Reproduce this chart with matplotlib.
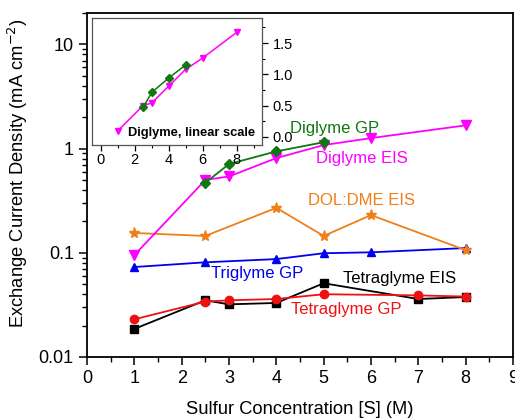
import matplotlib.pyplot as plt
import numpy as np
from matplotlib.ticker import MultipleLocator, LogLocator, NullFormatter

plt.rcParams['font.family'] = ['Liberation Sans', 'DejaVu Sans']

# Data
x_dig_eis = [1, 2.5, 3, 4, 5, 6, 8]
dig_eis = [0.095, 0.50, 0.54, 0.81, 1.08, 1.26, 1.67]

x_dig_gp = [2.5, 3, 4, 5]
dig_gp = [0.47, 0.71, 0.94, 1.15]

x_dol = [1, 2.5, 4, 5, 6, 8]
dol_eis = [0.155, 0.145, 0.27, 0.145, 0.23, 0.106]

x_tri = [1, 2.5, 4, 5, 6, 8]
tri_gp = [0.073, 0.081, 0.087, 0.099, 0.101, 0.111]

x_tetra = [1, 2.5, 3, 4, 5, 7, 8]
tetra_eis = [0.0186, 0.035, 0.032, 0.033, 0.051, 0.036, 0.0376]
tetra_gp = [0.023, 0.034, 0.035, 0.036, 0.040, 0.039, 0.038]

fig = plt.figure(figsize=(5.15, 4.19), dpi=100)
ax = fig.add_axes([0.169, 0.148, 0.827, 0.821])

ax.plot(x_tri, tri_gp, color='#0000ee', marker='^', ms=6, lw=1.3)
ax.plot(x_dol, dol_eis, color='#f07f1a', marker='*', ms=8, lw=1.3)
ax.plot(x_tetra, tetra_eis, color='black', marker='s', ms=5.5, lw=1.3)
ax.plot(x_tetra, tetra_gp, color='#ee1111', marker='o', ms=6, lw=1.3)
ax.plot(x_dig_eis, dig_eis, color='#ff00ff', marker='v', ms=7, lw=1.3)
ax.plot(x_dig_gp, dig_gp, color='#117711', marker='D', ms=5.5, lw=1.3)

ax.set_yscale('log')
ax.set_xlim(0, 9)
ax.set_ylim(0.01, 20)
ax.xaxis.set_major_locator(MultipleLocator(1))
ax.xaxis.set_minor_locator(MultipleLocator(0.5))
ax.yaxis.set_minor_locator(LogLocator(base=10, subs=np.arange(2, 10), numticks=10))
ax.yaxis.set_minor_formatter(NullFormatter())
ax.set_yticks([0.01, 0.1, 1, 10])
ax.set_yticklabels(['0.01', '0.1', '1', '10'])
ax.tick_params(which='major', direction='out', length=6, width=1.1, labelsize=13)
ax.tick_params(which='minor', direction='out', length=3.5, width=1)
for s in ax.spines.values():
    s.set_linewidth(1.3)

ax.set_xlabel('Sulfur Concentration [S] (M)', fontsize=13.2, labelpad=10)
ax.set_ylabel('Exchange Current Density (mA cm$^{-2}$)', fontsize=13.2)
ax.yaxis.set_label_coords(-0.135, 0.535)

ax.text(4.28, 1.57, 'Diglyme GP', color='#117711', fontsize=12, va='center')
ax.text(4.83, 0.81, 'Diglyme EIS', color='#ff00ff', fontsize=12, va='center')
ax.text(4.66, 0.32, 'DOL:DME EIS', color='#f07f1a', fontsize=12, va='center')
ax.text(2.62, 0.0638, 'Triglyme GP', color='#0000ee', fontsize=12, va='center')
ax.text(5.4, 0.0571, 'Tetraglyme EIS', color='black', fontsize=12, va='center')
ax.text(4.32, 0.0288, 'Tetraglyme GP', color='#ee1111', fontsize=12, va='center')

# inset, linear scale
ins = fig.add_axes([0.179, 0.654, 0.330, 0.303])
ins.plot(x_dig_eis, dig_eis, color='#ff00ff', marker='v', ms=5, lw=1.1)
ins.plot(x_dig_gp, dig_gp, color='#117711', marker='D', ms=4, lw=1.1)
ins.set_xlim(-0.5, 9.5)
ins.set_ylim(-0.13, 1.9)
ins.yaxis.tick_right()
ins.xaxis.set_major_locator(MultipleLocator(2))
ins.xaxis.set_minor_locator(MultipleLocator(1))
ins.yaxis.set_major_locator(MultipleLocator(0.5))
ins.yaxis.set_minor_locator(MultipleLocator(0.25))
ins.yaxis.set_major_formatter(plt.FormatStrFormatter('%.1f'))
ins.tick_params(which='major', direction='out', length=4, width=0.9, labelsize=10.5)
ins.tick_params(which='minor', direction='out', length=2.5, width=0.8)
ins.tick_params(axis='x', pad=2)
for s in ins.spines.values():
    s.set_linewidth(0.9)
    s.set_color('#555555')
ins.text(0.96, 0.05, 'Diglyme, linear scale', transform=ins.transAxes,
         ha='right', va='bottom', fontsize=9.3, fontweight='bold')

fig.savefig('out.png', dpi=100)
